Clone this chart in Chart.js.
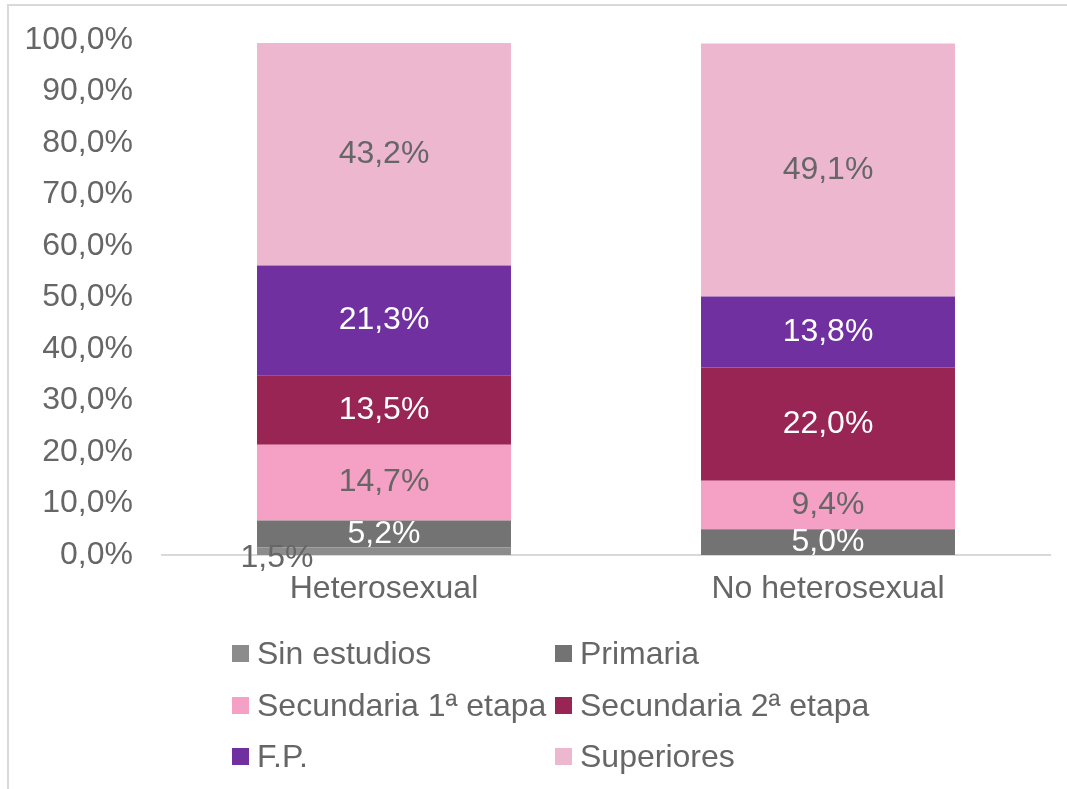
<!DOCTYPE html>
<html>
<head>
<meta charset="utf-8">
<script src="https://cdn.jsdelivr.net/npm/chart.js@4/dist/chart.umd.min.js"></script>
<style>
  body { margin: 0; background: #fff; font-family: "Liberation Sans", Arial, sans-serif; overflow: hidden; }
  #wrap { position: relative; width: 1067px; height: 789px; overflow: hidden; }
  #frame { position: absolute; left: 7px; top: 4px; width: 1300px; height: 900px; border: 2px solid #d9d9d9; border-right: none; border-bottom: none; box-sizing: border-box; }
  #plot { position: absolute; left: 0; top: 0; }
  #legend { position: absolute; left: 232px; top: 628px; display: grid; grid-template-columns: 323px 330px; grid-auto-rows: 51.5px; }
  .item { display: flex; align-items: center; font-size: 32px; color: #666; white-space: nowrap; }
  .box { width: 17px; height: 17px; margin-right: 8px; }
</style>
</head>
<body>
<div id="wrap">
  <div id="frame"></div>
  <canvas id="plot" width="1067" height="789"></canvas>
  <div id="legend"></div>
</div>
<script>
// categories and values (percent)
const categories = ['Heterosexual', 'No heterosexual'];
const sinEstudios = [1.5, null];
const primaria = [5.2, 5.0];
const secundaria1 = [14.7, 9.4];
const secundaria2 = [13.5, 22.0];
const fp = [21.3, 13.8];
const superiores = [43.2, 49.1];
const yTicks = [0, 10, 20, 30, 40, 50, 60, 70, 80, 90, 100];

const fmt = v => v.toFixed(1).replace('.', ',') + '%';

const data = {
  labels: categories,
  datasets: [
    { label: 'Sin estudios', data: sinEstudios, backgroundColor: '#8c8c8c', labelColor: '#666666', labelShift: true },
    { label: 'Primaria', data: primaria, backgroundColor: '#737373', labelColor: '#ffffff' },
    { label: 'Secundaria 1ª etapa', data: secundaria1, backgroundColor: '#f5a0c5', labelColor: '#666666' },
    { label: 'Secundaria 2ª etapa', data: secundaria2, backgroundColor: '#982553', labelColor: '#ffffff' },
    { label: 'F.P.', data: fp, backgroundColor: '#7030a0', labelColor: '#ffffff' },
    { label: 'Superiores', data: superiores, backgroundColor: '#eeb7d0', labelColor: '#666666' }
  ]
};

// draw value labels in the middle of each segment
const valueLabels = {
  id: 'valueLabels',
  afterDatasetsDraw(chart) {
    const ctx = chart.ctx;
    ctx.save();
    ctx.font = '32px "Liberation Sans", Arial';
    ctx.textAlign = 'center';
    ctx.textBaseline = 'middle';
    chart.data.datasets.forEach((ds, i) => {
      chart.getDatasetMeta(i).data.forEach((bar, j) => {
        const v = ds.data[j];
        if (v == null) return;
        let x = bar.x, y = (bar.y + bar.base) / 2;
        if (ds.labelShift) { x = bar.x - bar.width / 2 + 20; y = bar.base + 3; }
        ctx.fillStyle = ds.labelColor;
        ctx.fillText(fmt(v), x, y);
      });
    });
    ctx.restore();
  }
};

const config = {
  type: 'bar',
  data: data,
  options: {
    responsive: false,
    animation: false,
    layout: { padding: { top: 40, right: 17, bottom: 0, left: 0 } },
    datasets: { bar: { barPercentage: 1, categoryPercentage: 0.572, borderWidth: 0 } },
    plugins: { legend: { display: false }, tooltip: { enabled: false } },
    scales: {
      x: {
        stacked: true,
        grid: { display: false, drawTicks: false },
        border: { display: true, color: '#d9d9d9', width: 2 },
        ticks: { color: '#666666', font: { size: 32, family: '"Liberation Sans", Arial' }, padding: 15 },
        afterFit: s => { s.height = 234; s.paddingLeft = 0; s.paddingRight = 0; }
      },
      y: {
        stacked: true,
        min: 0, max: 100,
        afterBuildTicks: s => { s.ticks = yTicks.map(v => ({ value: v })); },
        grid: { display: false, drawTicks: false },
        border: { display: false },
        ticks: { color: '#666666', font: { size: 32, family: '"Liberation Sans", Arial' }, padding: 29, callback: v => fmt(v) },
        afterFit: s => { s.width = 162; s.paddingTop = 0; s.paddingBottom = 0; }
      }
    }
  },
  plugins: [valueLabels]
};

let ctx = document.getElementById('plot').getContext('2d');
let chart = new Chart(ctx, config);

// legend in two columns, built from the datasets
const legend = document.getElementById('legend');
chart.data.datasets.forEach(ds => {
  const item = document.createElement('div');
  item.className = 'item';
  item.innerHTML = '<span class="box" style="background:' + ds.backgroundColor + '"></span>' + ds.label;
  legend.appendChild(item);
});
</script>
</body>
</html>
